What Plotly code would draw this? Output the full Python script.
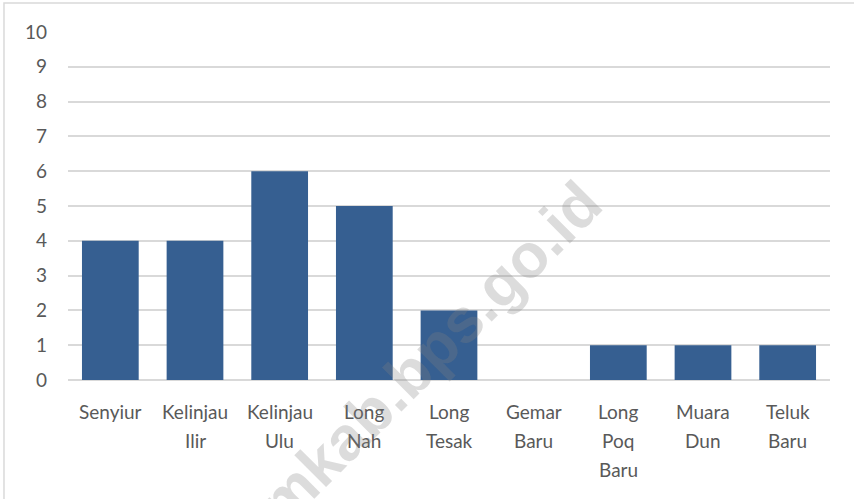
import plotly.graph_objects as go

categories = ["Senyiur", "Kelinjau Ilir", "Kelinjau Ulu", "Long Nah", "Long Tesak",
              "Gemar Baru", "Long Poq Baru", "Muara Dun", "Teluk Baru"]
label_lines = [["Senyiur"], ["Kelinjau", "Ilir"], ["Kelinjau", "Ulu"], ["Long", "Nah"],
               ["Long", "Tesak"], ["Gemar", "Baru"], ["Long", "Poq", "Baru"],
               ["Muara", "Dun"], ["Teluk", "Baru"]]
values = [4, 4, 6, 5, 2, 0, 1, 1, 1]
y_ticks = list(range(0, 11))
watermark = "kutimkab.bps.go.id"

FONT = "Lato"
TXT = "#595959"
GRID = "#d9d9d9"

fig = go.Figure(go.Bar(x=categories, y=values, marker_color="#365F91",
                       marker_line_width=0))

annotations = []
for cat, lines in zip(categories, label_lines):
    for i, ln in enumerate(lines):
        annotations.append(dict(x=cat, xref="x", y=0, yref="paper", text=ln,
                                showarrow=False, xanchor="center", yanchor="middle",
                                yshift=-31 - 29 * i,
                                font=dict(family=FONT, size=19, color=TXT)))
annotations.append(dict(x=0.4226, y=-0.0345, xref="paper", yref="paper", text="<b>" + watermark + "</b>",
                        showarrow=False, textangle=-45, xanchor="center", yanchor="middle",
                        font=dict(family="Liberation Sans", size=62, color="rgba(128,128,128,0.28)")))

fig.update_layout(
    width=854, height=499,
    margin=dict(l=68, r=24, t=32, b=119),
    paper_bgcolor="white", plot_bgcolor="white",
    bargap=0.33, showlegend=False,
    font=dict(family=FONT, size=19, color=TXT),
    xaxis=dict(range=[-0.5, 8.5], showticklabels=False, showgrid=False, zeroline=False,
               showline=False, ticks=""),
    yaxis=dict(range=[0, 10], tickvals=y_ticks, showgrid=True, gridcolor=GRID, gridwidth=1.5,
               zeroline=True, zerolinecolor=GRID, zerolinewidth=1.5, showline=False,
               ticks="", ticklabelstandoff=20,
               tickfont=dict(family=FONT, size=19, color=TXT)),
    annotations=annotations,
    shapes=[dict(type="rect", xref="paper", yref="paper", x0=-0.084, x1=1.3, y0=-2, y1=1.083,
                 line=dict(color=GRID, width=1.5), fillcolor="rgba(0,0,0,0)", layer="below")],
)

fig.write_html("out.html", config={"displayModeBar": False},
               post_script="document.body.style.margin='0';document.body.style.overflow='hidden';")
